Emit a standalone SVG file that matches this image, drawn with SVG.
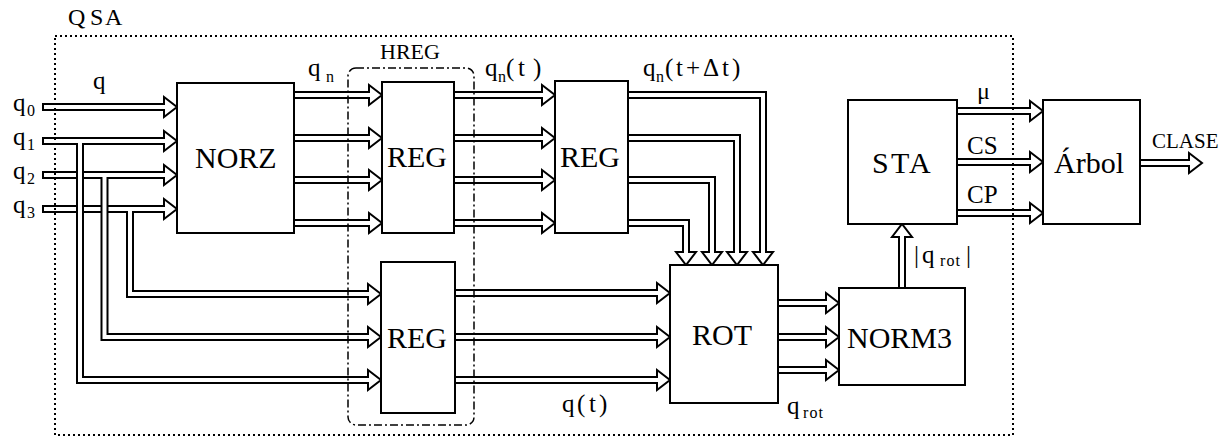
<svg xmlns="http://www.w3.org/2000/svg" width="1231" height="438" viewBox="0 0 1231 438">
<style>
.w{fill:none;stroke:#000;stroke-width:8;stroke-linecap:square;stroke-linejoin:miter}
.c{fill:none;stroke:#fff;stroke-width:4;stroke-linecap:square;stroke-linejoin:miter}
.head{fill:#fff;stroke:#000;stroke-width:2;stroke-linejoin:miter}
.box{fill:#fff;stroke:#000;stroke-width:2}
.big{font-size:30px}
.lab{font-size:25px}
.sub{font-size:16px}
.ser{font-family:"Liberation Serif",serif}
.frame{fill:none;stroke:#000;stroke-width:2;stroke-dasharray:2 3}
.hreg{fill:none;stroke:#000;stroke-width:1.5;stroke-dasharray:8 3 2 3}
</style>
<defs>
<path id="hr" d="M0,-2 V-10 L13,0 L0,10 V2"/>
<path id="hd" d="M-2,0 H-10 L0,13 L10,0 H2"/>
<path id="hu" d="M-2,0 H-10 L0,-13 L10,0 H2"/>
<path id="p-q3" d="M46,209 H164 M130,209 V294 H368"/>
<path id="p-q2" d="M46,175 H164 M104.5,175 V337 H368"/>
<path id="p-q1" d="M46,141 H164 M80,141 V380 H368"/>
<path id="p-q0" d="M46,107 H164"/>
<path id="p-rest" d="M294,95 H369 M294,138 H369 M294,180 H369 M294,223 H369 M454,95 H542 M454,138 H542 M454,180 H542 M454,223 H542 M628,95 H763 V252 M628,138 H737 V252 M628,180 H712 V252 M628,223 H686 V252 M455,293 H657 M455,337 H657 M455,380 H657 M778,303 H826 M778,337 H826 M778,370 H826 M902,288 V237 M957,111 H1030 M957,162 H1030 M957,213 H1030 M1140,163 H1189"/>
</defs>

<g id="connectors">
<use href="#p-q3" class="w"/><use href="#p-q3" class="c"/>
<use href="#p-q2" class="w"/><use href="#p-q2" class="c"/>
<use href="#p-q1" class="w"/><use href="#p-q1" class="c"/>
<use href="#p-q0" class="w"/><use href="#p-q0" class="c"/>
<use href="#p-rest" class="w"/><use href="#p-rest" class="c"/>
<g class="head">
<use href="#hr" x="164" y="107"/><use href="#hr" x="164" y="141"/><use href="#hr" x="164" y="175"/><use href="#hr" x="164" y="209"/>
<use href="#hr" x="368" y="294"/><use href="#hr" x="368" y="337"/><use href="#hr" x="368" y="380"/>
<use href="#hr" x="369" y="95"/><use href="#hr" x="369" y="138"/><use href="#hr" x="369" y="180"/><use href="#hr" x="369" y="223"/>
<use href="#hr" x="542" y="95"/><use href="#hr" x="542" y="138"/><use href="#hr" x="542" y="180"/><use href="#hr" x="542" y="223"/>
<use href="#hd" x="763" y="252"/><use href="#hd" x="737" y="252"/><use href="#hd" x="712" y="252"/><use href="#hd" x="686" y="252"/>
<use href="#hr" x="657" y="293"/><use href="#hr" x="657" y="337"/><use href="#hr" x="657" y="380"/>
<use href="#hr" x="826" y="303"/><use href="#hr" x="826" y="337"/><use href="#hr" x="826" y="370"/>
<use href="#hu" x="902" y="237"/>
<use href="#hr" x="1030" y="111"/><use href="#hr" x="1030" y="162"/><use href="#hr" x="1030" y="213"/>
<use href="#hr" x="1189" y="163"/>
</g>
</g>

<g id="node-norz"><rect class="box" x="177" y="83" width="117" height="150"/><text class="big ser" x="195" y="168">NORZ</text></g>
<g id="node-reg1"><rect class="box" x="382" y="82" width="72" height="151"/><text class="big ser" x="387" y="167">REG</text></g>
<g id="node-reg2"><rect class="box" x="555" y="81" width="73" height="152"/><text class="big ser" x="560" y="167">REG</text></g>
<g id="node-reg3"><rect class="box" x="381" y="262" width="74" height="151"/><text class="big ser" x="387" y="348">REG</text></g>
<g id="node-rot"><rect class="box" x="670" y="265" width="108" height="138"/><text class="big ser" x="692" y="345">ROT</text></g>
<g id="node-norm3"><rect class="box" x="839" y="288" width="126" height="97"/><text class="big ser" x="847" y="348">NORM3</text></g>
<g id="node-sta"><rect class="box" x="848" y="100" width="109" height="124"/><text class="big ser" x="872 891 909" y="173">STA</text></g>
<g id="node-arbol"><rect class="box" x="1043" y="100" width="97" height="124"/><text class="big ser" x="1054" y="173">Árbol</text></g>

<g id="frames">
<rect class="frame" x="55" y="36" width="958" height="399"/>
<rect class="hreg" x="348" y="68" width="126" height="357" rx="8"/>
<text class="ser" font-size="24" x="68 90 105" y="25">QSA</text>
<text class="ser" font-size="22" x="380" y="59">HREG</text>
</g>

<g id="labels">
<text class="lab ser" x="93" y="89">q</text>
<text class="lab ser" x="13" y="111">q</text><text class="sub ser" x="27" y="116">0</text>
<text class="lab ser" x="13" y="145">q</text><text class="sub ser" x="27" y="150">1</text>
<text class="lab ser" x="13" y="179">q</text><text class="sub ser" x="27" y="184">2</text>
<text class="lab ser" x="13" y="213">q</text><text class="sub ser" x="27" y="218">3</text>
<text class="lab ser" x="308" y="76">q</text><text class="sub ser" x="326" y="82">n</text>
<text class="lab ser" x="485" y="76">q</text><text class="sub ser" x="498" y="82">n</text><text class="lab ser" x="506 518 533" y="76">(t)</text>
<text class="lab ser" x="643" y="76">q</text><text class="sub ser" x="656" y="82">n</text><text class="lab ser" x="665 676 686 703 722 732" y="76">(t+Δt)</text>
<text class="lab ser" x="562 577 589 599" y="412">q(t)</text>
<text class="lab ser" x="787" y="414">q</text><text class="sub ser" x="803 809.5 818.5" y="418">rot</text>
<text class="lab ser" x="914 922" y="263">|q</text><text class="sub ser" x="940 946.5 955.5" y="266">rot</text><text class="lab ser" x="966" y="263">|</text>
<text class="ser" font-size="24" x="977" y="99">μ</text>
<text class="lab ser" x="967" y="154">CS</text>
<text class="lab ser" x="967" y="203">CP</text>
<text class="ser" font-size="21" x="1152" y="148">CLASE</text>
</g>
</svg>
